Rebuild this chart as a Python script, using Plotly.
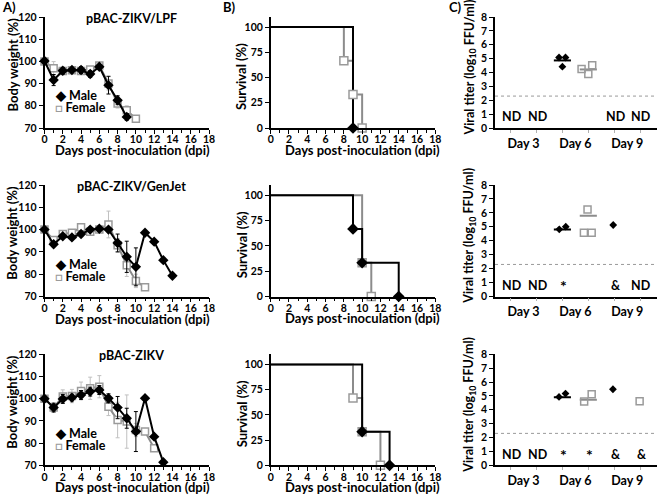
import plotly.graph_objects as go

W, H = 658, 497

# ---------------- Panel A: body weight (%) ----------------
lpf_male_days = [0, 1, 2, 3, 4, 5, 6, 7, 8, 9]
lpf_male_wt = [100.2, 91.6, 95.8, 96.1, 96.1, 94.3, 97.6, 89.3, 82.5, 75.0]
lpf_male_err = [0.5, 2.5, 1.5, 1.0, 1.5, 1.5, 1.0, 4.0, 2.0, 1.5]
lpf_female_days = [0, 1, 2, 3, 4, 5, 6, 7, 8, 9, 10]
lpf_female_wt = [100.0, 96.9, 95.7, 96.0, 95.7, 96.4, 98.1, 90.1, 81.0, 78.0, 74.2]
lpf_female_err = [0.5, 3.0, 1.5, 1.0, 1.5, 1.0, 1.0, 3.0, 2.0, 2.0, 0.0]

gj_male_days = [0, 1, 2, 3, 4, 5, 6, 7, 8, 9, 10, 11, 12, 13, 14]
gj_male_wt = [100.0, 93.4, 97.0, 96.5, 98.0, 100.0, 100.4, 100.0, 94.0, 87.8, 83.3, 98.6, 94.6, 86.3, 79.3]
gj_male_err = [0.5, 1.0, 1.0, 0.5, 1.0, 1.0, 1.0, 1.0, 4.0, 7.0, 8.5, 0, 0, 0, 0]
gj_female_days = [0, 1, 2, 3, 4, 5, 6, 7, 8, 9, 10, 11]
gj_female_wt = [100.0, 95.3, 98.0, 98.6, 101.0, 99.0, 100.0, 102.3, 93.0, 84.0, 77.0, 74.1]
gj_female_err = [0.5, 1.5, 1.5, 1.0, 1.5, 1.0, 1.5, 6.0, 3.0, 5.0, 3.0, 0]

pz_male_days = [0, 1, 2, 3, 4, 5, 6, 7, 8, 9, 10, 11, 12, 13]
pz_male_wt = [100.0, 96.0, 99.9, 100.5, 101.7, 103.2, 103.9, 100.2, 96.0, 91.2, 85.2, 100.2, 82.9, 71.4]
pz_male_err = [0.5, 2.0, 2.0, 1.5, 2.0, 2.0, 2.0, 2.0, 5.0, 4.5, 9.0, 0, 0, 0]
pz_female_days = [0, 1, 2, 3, 4, 5, 6, 7, 8, 9, 10, 11, 12]
pz_female_wt = [100.0, 96.0, 101.0, 101.2, 103.5, 104.7, 105.4, 96.4, 90.4, 89.7, 85.9, 85.2, 77.7]
pz_female_err = [0.5, 1.5, 3.0, 3.0, 4.0, 5.0, 5.0, 4.0, 8.0, 12.0, 3.0, 1.0, 1.0]

weight_titles = ["pBAC-ZIKV/LPF", "pBAC-ZIKV/GenJet", "pBAC-ZIKV"]

# ---------------- Panel B: survival (%) ----------------
lpf_surv_male_x = [0, 9]
lpf_surv_male_y = [100, 0]
lpf_surv_female_x = [0, 8, 9, 10]
lpf_surv_female_y = [100, 66.7, 33.3, 0]

gj_surv_male_x = [0, 9, 10, 14]
gj_surv_male_y = [100, 66.7, 33.3, 0]
gj_surv_female_x = [0, 10, 11]
gj_surv_female_y = [100, 33.3, 0]

pz_surv_male_x = [0, 10, 13]
pz_surv_male_y = [100, 33.3, 0]
pz_surv_female_x = [0, 9, 10, 12]
pz_surv_female_y = [100, 66.7, 33.3, 0]

# ---------------- Panel C: viral titer ----------------
group_labels = ["Day 3", "Day 6", "Day 9"]
group_centers = [1.5, 3.5, 5.5]
column_positions = [1, 2, 3, 4, 5, 6]
detection_limit = 2.3

lpf_titer_male6 = [5.08, 5.08, 4.42]
lpf_titer_male6_jit = [-0.13, 0.12, 0.0]
lpf_titer_female6 = [4.25, 4.53, 3.89]
lpf_titer_female6_jit = [-0.26, 0.15, 0.0]
lpf_titer_male9, lpf_titer_male9_jit = [], []
lpf_titer_female9, lpf_titer_female9_jit = [], []
lpf_means = [None, None, 4.87, 4.22, None, None]
lpf_notes = ["ND", "ND", "", "", "ND", "ND"]

gj_titer_male6 = [4.82, 5.01]
gj_titer_male6_jit = [-0.12, 0.13]
gj_titer_female6 = [6.25, 4.58, 4.58]
gj_titer_female6_jit = [-0.03, -0.17, 0.13]
gj_titer_male9, gj_titer_male9_jit = [5.13], [-0.04]
gj_titer_female9, gj_titer_female9_jit = [], []
gj_means = [None, None, 4.8, 5.8, None, None]
gj_notes = ["ND", "ND", "*", "", "&", "ND"]

pz_titer_male6 = [4.93, 5.17]
pz_titer_male6_jit = [-0.13, 0.12]
pz_titer_female6 = [4.59, 5.12]
pz_titer_female6_jit = [-0.16, 0.13]
pz_titer_male9, pz_titer_male9_jit = [5.48], [-0.05]
pz_titer_female9, pz_titer_female9_jit = [4.62], [-0.02]
pz_means = [None, None, 4.9, 4.73, None, None]
pz_notes = ["ND", "ND", "*", "*", "&", "&"]

# ---------------- styling ----------------
FONT = "Lato"
BLACK = "#000000"
GRAY_LINE = "#8c8c8c"
GRAY_MARK = "#9a9a9a"
GRAY_ERR = "#c0c0c0"

rows_px = [(17, 128), (185, 296.5), (354.3, 465.3)]
cols_px = [(44.5, 209), (270.7, 435.3), (495, 657)]

fig = go.Figure()
layout = dict(
    width=W, height=H, margin=dict(l=0, r=0, t=0, b=0, autoexpand=False),
    paper_bgcolor="white", plot_bgcolor="white", showlegend=False,
    font=dict(family=FONT, color=BLACK, size=11, weight="bold"),
)
annotations = []


def sfx(r, c):
    i = r * 3 + c + 1
    return "" if i == 1 else str(i)


def base_axis():
    return dict(showline=True, linecolor=BLACK, linewidth=1.5, ticks="outside",
                ticklen=4, tickwidth=1.3, tickcolor=BLACK, showgrid=False, automargin=False,
                zeroline=False, tickfont=dict(family=FONT, size=10.5, weight="bold"))


def ann(text, xp, yp, size=13, angle=0, xanchor="center", yanchor="middle", color=BLACK):
    annotations.append(dict(text=text, x=xp / W, y=1 - yp / H, xref="paper", yref="paper",
                            showarrow=False, textangle=angle, xanchor=xanchor, yanchor=yanchor,
                            font=dict(family=FONT, size=size, color=color, weight="bold")))


for r in range(3):
    for c in range(3):
        s = sfx(r, c)
        x0, x1 = cols_px[c]
        y0, y1 = rows_px[r]
        xa = base_axis()
        ya = base_axis()
        xa.update(domain=[x0 / W, x1 / W], anchor="y" + s, ticklabelstandoff=-3)
        ya.update(domain=[1 - y1 / H, 1 - y0 / H], anchor="x" + s)
        if c == 0:
            xa.update(range=[0, 18], tickvals=list(range(0, 19, 2)),
                      minor=dict(ticks="outside", dtick=1, ticklen=3, tickcolor=BLACK, tickwidth=1.2))
            ya.update(range=[70, 120], tickvals=[70, 80, 90, 100, 110, 120])
        elif c == 1:
            xa.update(range=[0, 18], tickvals=list(range(0, 19, 2)),
                      minor=dict(ticks="outside", dtick=1, ticklen=3, tickcolor=BLACK, tickwidth=1.2))
            ya.update(range=[0, 110], tickvals=[0, 25, 50, 75, 100])
        else:
            xa.update(range=[0.4, 6.65], tickvals=group_centers, ticktext=group_labels,
                      tickcolor="rgba(0,0,0,0)", ticklen=3, tickwidth=1, ticklabelstandoff=0,
                      tickfont=dict(family=FONT, size=12.5, weight="bold"),
                      minor=dict(tickvals=column_positions, ticks="outside", ticklen=3,
                                 tickcolor="#b0b0b0", tickwidth=1))
            ya.update(range=[0, 8], tickvals=list(range(0, 9)))
        layout["xaxis" + s] = xa
        layout["yaxis" + s] = ya

# ---------- Panel A traces ----------
weight_sets = [
    (lpf_male_days, lpf_male_wt, lpf_male_err, lpf_female_days, lpf_female_wt, lpf_female_err),
    (gj_male_days, gj_male_wt, gj_male_err, gj_female_days, gj_female_wt, gj_female_err),
    (pz_male_days, pz_male_wt, pz_male_err, pz_female_days, pz_female_wt, pz_female_err),
]
for r, (md, mw, me, fd, fw, fe) in enumerate(weight_sets):
    s = sfx(r, 0)
    fig.add_trace(go.Scatter(
        x=fd, y=fw, mode="lines+markers", xaxis="x" + s, yaxis="y" + s, cliponaxis=False,
        line=dict(color=GRAY_LINE, width=2),
        marker=dict(symbol="square", size=7, color="white", line=dict(color=GRAY_MARK, width=1.5)),
        error_y=dict(type="data", array=fe, color=GRAY_ERR, thickness=1, width=2)))
    fig.add_trace(go.Scatter(
        x=md, y=mw, mode="lines+markers", xaxis="x" + s, yaxis="y" + s, cliponaxis=False,
        line=dict(color=BLACK, width=2),
        marker=dict(symbol="diamond", size=8, color=BLACK),
        error_y=dict(type="data", array=me, color=BLACK, thickness=1, width=2)))
    y0, y1 = rows_px[r]
    ann(weight_titles[r], 131, y0 + 1, size=12.5)
    ann("◆ Male", 53, y0 + 79, size=12.5, xanchor="left")
    ann('<span style="color:#9a9a9a">□</span> Female', 53, y0 + 91, size=12.5, xanchor="left")
    ann("Body weight (%)", 12, (y0 + y1) / 2 - 8, size=13, angle=-90)
    ann("Days post-inoculation (dpi)", 132, y1 + 22, size=13)

# ---------- Panel B traces ----------
surv_sets = [
    (lpf_surv_male_x, lpf_surv_male_y, lpf_surv_female_x, lpf_surv_female_y),
    (gj_surv_male_x, gj_surv_male_y, gj_surv_female_x, gj_surv_female_y),
    (pz_surv_male_x, pz_surv_male_y, pz_surv_female_x, pz_surv_female_y),
]
for r, (mx, my, fx, fy) in enumerate(surv_sets):
    s = sfx(r, 1)
    fig.add_trace(go.Scatter(x=fx, y=fy, mode="lines", line_shape="hv", xaxis="x" + s, yaxis="y" + s,
                             cliponaxis=False, line=dict(color=GRAY_LINE, width=2)))
    fig.add_trace(go.Scatter(x=mx, y=my, mode="lines", line_shape="hv", xaxis="x" + s, yaxis="y" + s,
                             cliponaxis=False, line=dict(color=BLACK, width=2)))
    fig.add_trace(go.Scatter(x=fx[1:], y=fy[1:], mode="markers", xaxis="x" + s, yaxis="y" + s,
                             cliponaxis=False,
                             marker=dict(symbol="square", size=8, color="white",
                                         line=dict(color=GRAY_MARK, width=1.5))))
    fig.add_trace(go.Scatter(x=mx[1:], y=my[1:], mode="markers", xaxis="x" + s, yaxis="y" + s,
                             cliponaxis=False, marker=dict(symbol="diamond", size=9, color=BLACK)))
    y0, y1 = rows_px[r]
    ann("Survival (%)", 241.5, (y0 + y1) / 2 + 4, size=13, angle=-90)
    ann("Days post-inoculation (dpi)", 362, y1 + 21.5, size=13)

# ---------- Panel C traces ----------
titer_sets = [
    (lpf_titer_male6, lpf_titer_male6_jit, lpf_titer_female6, lpf_titer_female6_jit,
     lpf_titer_male9, lpf_titer_male9_jit, lpf_titer_female9, lpf_titer_female9_jit, lpf_means, lpf_notes),
    (gj_titer_male6, gj_titer_male6_jit, gj_titer_female6, gj_titer_female6_jit,
     gj_titer_male9, gj_titer_male9_jit, gj_titer_female9, gj_titer_female9_jit, gj_means, gj_notes),
    (pz_titer_male6, pz_titer_male6_jit, pz_titer_female6, pz_titer_female6_jit,
     pz_titer_male9, pz_titer_male9_jit, pz_titer_female9, pz_titer_female9_jit, pz_means, pz_notes),
]
shapes = []
for r, (m6, m6j, f6, f6j, m9, m9j, f9, f9j, means, notes) in enumerate(titer_sets):
    s = sfx(r, 2)
    xr, yr = "x" + s, "y" + s
    shapes.append(dict(type="line", xref=xr + " domain", yref=yr, x0=0, x1=1,
                       y0=detection_limit, y1=detection_limit,
                       line=dict(color="#9a9a9a", width=1, dash="dot")))
    for pos, mval in zip(column_positions, means):
        if mval is None:
            continue
        col = BLACK if pos % 2 == 1 else GRAY_LINE
        fig.add_trace(go.Scatter(x=[pos - 0.33, pos + 0.33], y=[mval, mval], mode="lines",
                                 xaxis=xr, yaxis=yr, line=dict(color=col, width=2)))
    male_x = [3 + j for j in m6j] + [5 + j for j in m9j]
    male_y = list(m6) + list(m9)
    fem_x = [4 + j for j in f6j] + [6 + j for j in f9j]
    fem_y = list(f6) + list(f9)
    fig.add_trace(go.Scatter(x=male_x, y=male_y, mode="markers", xaxis=xr, yaxis=yr,
                             marker=dict(symbol="diamond", size=6, color=BLACK)))
    fig.add_trace(go.Scatter(x=fem_x, y=fem_y, mode="markers", xaxis=xr, yaxis=yr,
                             marker=dict(symbol="square", size=7, color="rgba(255,255,255,0)",
                                         line=dict(color=GRAY_MARK, width=1.5))))
    for pos, note in zip(column_positions, notes):
        if note:
            size = 16 if note == "*" else 12.5
            annotations.append(dict(text=note, x=pos + 0.05, y=0.8, xref=xr, yref=yr, showarrow=False,
                                    font=dict(family=FONT, size=size, color=BLACK, weight="bold")))
    y0, y1 = rows_px[r]
    ann("Viral titer (log<sub>10</sub> FFU/ml)", 470, (y0 + y1) / 2 - 5, size=12.5, angle=-90)

ann("A)", 0, 7, size=13, xanchor="left")
ann("B)", 221, 7, size=13, xanchor="left")
ann("C)", 447, 7, size=13, xanchor="left")

layout["annotations"] = annotations
layout["shapes"] = shapes
fig.update_layout(**layout)
fig.write_html("out.html", config={"displayModeBar": False},
               post_script="document.body.style.margin='0';document.body.style.overflow='hidden';")
